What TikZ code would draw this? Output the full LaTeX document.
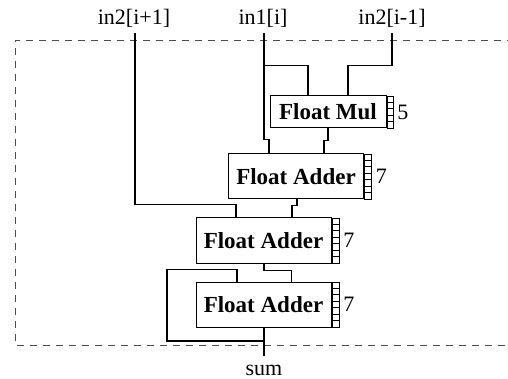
\documentclass[tikz,border=0pt]{standalone}
\usepackage{fontspec}
\setmainfont{Liberation Serif}
\usetikzlibrary{calc}
\newcommand\blkfont{\fontsize{23}{26}\selectfont\bfseries}
\newcommand\lblfont{\fontsize{22}{25}\selectfont}
\tikzset{
  blk/.style={draw, line width=1pt, fill=white, inner sep=0pt, font=\blkfont, minimum height=45pt, minimum width=135pt},
  stg/.style={draw, line width=0.6pt, inner sep=0pt, minimum width=7pt, minimum height=45pt, anchor=west},
  cell/.style={line width=0.6pt},
  wire/.style={line width=1.8pt, line join=miter},
  lbl/.style={font=\lblfont, inner sep=0pt},
  dashbox/.style={line width=0.8pt, black!70, dash pattern=on 7pt off 6pt},
}
\begin{document}
\begin{tikzpicture}[x=1pt,y=-1pt]
\useasboundingbox (0,0) rectangle (508,379);

% dashed boundary (open to the right)
\draw[dashbox] (540,40) -- (15,40) -- (15,345) -- (540,345);

% blocks
\node[blk, minimum width=116pt, minimum height=32pt] (mul) at (328,112) {Float Mul};
\node[stg, minimum width=6pt, minimum height=32pt] (mulst) at (mul.east) {};
\node[blk] (add1) at (296,176.5) {Float Adder};
\node[stg] (add1st) at (add1.east) {};
\node[blk] (add2) at (263.5,240.5) {Float Adder};
\node[stg] (add2st) at (add2.east) {};
\node[blk] (add3) at (263.5,304.5) {Float Adder};
\node[stg] (add3st) at (add3.east) {};

% pipeline stage cells
\foreach \k in {1,...,4}
  \draw[cell] ($(mulst.north west)!\k/5!(mulst.south west)$) -- ($(mulst.north east)!\k/5!(mulst.south east)$);
\foreach \s in {add1st,add2st,add3st}
  \foreach \k in {1,...,6}
    \draw[cell] ($(\s.north west)!\k/7!(\s.south west)$) -- ($(\s.north east)!\k/7!(\s.south east)$);

% stage counts
\node[lbl, anchor=west] (mulnum) at ([xshift=4pt]mulst.east) {5};
\node[lbl, anchor=west] (add1num) at ([xshift=4pt]add1st.east) {7};
\node[lbl, anchor=west] (add2num) at ([xshift=4pt]add2st.east) {7};
\node[lbl, anchor=west] (add3num) at ([xshift=4pt]add3st.east) {7};

% port labels
\node[lbl, anchor=base] (in2p) at (134,25) {in2[i+1]};
\node[lbl, anchor=base] (in1) at (263,25) {in1[i]};
\node[lbl, anchor=base] (in2m) at (392,25) {in2[i-1]};
\node[lbl, anchor=base] (sum) at (264,375) {sum};

\coordinate (in2ptop) at (135,33);
\coordinate (in1top) at (264,33);
\coordinate (in2mtop) at (392,33);
\coordinate (sumend) at (264,356);
\coordinate (loop) at (167,341);

% wires
\draw[wire] ([xshift=-27pt]add1.north) -- ++(0,-14) -| (in1top);
\draw[wire] ([xshift=-20pt]mul.north) -- ++(0,-30) -| (in1top);
\draw[wire] ([xshift=20pt]mul.north) -- ++(0,-30) -| (in2mtop);
\draw[wire] (mul.south) -- ++(0,12) -| ([xshift=28pt]add1.north);
\draw[wire] ([xshift=1pt]add1.south) -- ++(0,6) -| ([xshift=28.5pt]add2.north);
\draw[wire] ([xshift=-27.5pt]add2.north) -- ++(0,-13) -| (in2ptop);
\draw[wire] ([xshift=0.5pt]add2.south) -- ++(0,7) -| ([xshift=28pt]add3.north);
\draw[wire] ([xshift=-26.5pt]add3.north) -- ++(0,-12) -| (loop) -- (loop -| sumend);
\draw[wire] ([xshift=0.5pt]add3.south) -- (sumend);
\end{tikzpicture}
\end{document}
